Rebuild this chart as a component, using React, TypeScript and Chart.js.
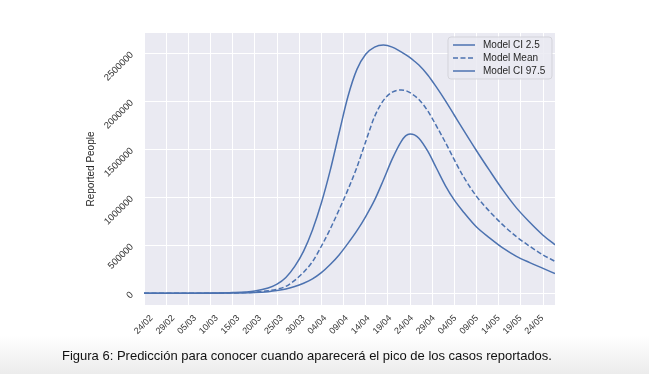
import React, { useEffect, useRef } from "react";
import { Chart, registerables } from "chart.js";

Chart.register(...registerables);

// Days since 24/02
const DAYS = [0, 10, 15, 20, 25, 28, 30, 32, 34, 36, 38, 40, 42, 44, 46, 48, 50, 52, 54, 56, 58, 59, 60, 61, 62, 64, 66, 68, 70, 72, 75, 78, 81, 84, 87, 90, 92.7];

const CI_LOW = [0, 100, 500, 2000, 8000, 17000, 28000, 45000, 70000, 105000, 150000, 215000, 300000, 400000, 520000, 650000, 800000, 970000, 1180000, 1400000, 1580000, 1640000, 1660000, 1650000, 1615000, 1480000, 1300000, 1120000, 970000, 850000, 690000, 575000, 470000, 385000, 320000, 260000, 205000];

const MEAN = [0, 200, 800, 3000, 12000, 26000, 42000, 72000, 135000, 220000, 330000, 490000, 670000, 870000, 1080000, 1310000, 1580000, 1840000, 2010000, 2095000, 2118000, 2112000, 2090000, 2058000, 2020000, 1900000, 1740000, 1570000, 1390000, 1220000, 1010000, 850000, 710000, 590000, 490000, 400000, 333000];

const CI_HIGH = [0, 500, 2000, 7000, 25000, 55000, 95000, 165000, 280000, 440000, 660000, 940000, 1280000, 1670000, 2050000, 2330000, 2490000, 2565000, 2586000, 2565000, 2515000, 2487000, 2455000, 2418000, 2378000, 2275000, 2145000, 2005000, 1855000, 1705000, 1485000, 1275000, 1072000, 890000, 740000, 605000, 505000];

const SERIES_NAMES = ["Model CI 2.5", "Model Mean", "Model CI 97.5"];

const GRID_DAYS = [0, 5, 10, 15, 20, 25, 30, 35, 40, 45, 50, 55, 60, 65, 70, 75, 80, 85, 90];
const TICK_LABELS = ["24/02", "29/02", "05/03", "10/03", "15/03", "20/03", "25/03", "30/03", "04/04", "09/04", "14/04", "19/04", "24/04", "29/04", "04/05", "09/05", "14/05", "19/05", "24/05"];
const Y_TICKS = [0, 500000, 1000000, 1500000, 2000000, 2500000];

const CAPTION = "Figura 6: Predicción para conocer cuando aparecerá el pico de los casos reportados.";

const LINE = "#4c72b0";
const FONT = "'Liberation Sans', Arial, sans-serif";

export default function App() {
  const ref = useRef<HTMLCanvasElement | null>(null);

  useEffect(() => {
    const canvas = ref.current;
    if (!canvas) return;

    const bgPlugin = {
      id: "plotBg",
      beforeDraw(chart: any) {
        const { ctx, chartArea: a } = chart;
        ctx.save();
        ctx.fillStyle = "#eaeaf2";
        ctx.fillRect(a.left, a.top, a.right - a.left, a.bottom - a.top);
        ctx.restore();
      },
    };

    const legendPlugin = {
      id: "innerLegend",
      afterDatasetsDraw(chart: any) {
        const { ctx, chartArea: a } = chart;
        const w = 104;
        const h = 42;
        const x = a.right - 3 - w;
        const y = a.top + 4;
        ctx.save();
        ctx.beginPath();
        const r = 3;
        ctx.moveTo(x + r, y);
        ctx.lineTo(x + w - r, y);
        ctx.quadraticCurveTo(x + w, y, x + w, y + r);
        ctx.lineTo(x + w, y + h - r);
        ctx.quadraticCurveTo(x + w, y + h, x + w - r, y + h);
        ctx.lineTo(x + r, y + h);
        ctx.quadraticCurveTo(x, y + h, x, y + h - r);
        ctx.lineTo(x, y + r);
        ctx.quadraticCurveTo(x, y, x + r, y);
        ctx.closePath();
        ctx.fillStyle = "rgba(234,234,242,0.85)";
        ctx.fill();
        ctx.strokeStyle = "rgba(210,210,215,0.9)";
        ctx.lineWidth = 1;
        ctx.stroke();
        chart.data.datasets.forEach((ds: any, i: number) => {
          const ry = y + 8 + i * 13;
          ctx.beginPath();
          ctx.setLineDash(ds.borderDash || []);
          ctx.strokeStyle = ds.borderColor;
          ctx.lineWidth = ds.borderWidth;
          ctx.moveTo(x + 5, ry);
          ctx.lineTo(x + 27, ry);
          ctx.stroke();
          ctx.setLineDash([]);
          ctx.fillStyle = "#262626";
          ctx.font = `10px ${FONT}`;
          ctx.textBaseline = "middle";
          ctx.textAlign = "left";
          ctx.fillText(ds.label, x + 35, ry + 0.5);
        });
        ctx.restore();
      },
    };

    const mk = (vals: number[]) => DAYS.map((d, i) => ({ x: d, y: vals[i] }));

    const chart = new Chart(canvas, {
      type: "line",
      data: {
        datasets: [
          { label: SERIES_NAMES[0], data: mk(CI_HIGH), borderColor: LINE, borderWidth: 1.5, pointRadius: 0, cubicInterpolationMode: "monotone", fill: false, xAxisID: "x", yAxisID: "y" },
          { label: SERIES_NAMES[1], data: mk(MEAN), borderColor: LINE, borderWidth: 1.5, borderDash: [5, 2.5], pointRadius: 0, cubicInterpolationMode: "monotone", fill: false, xAxisID: "x", yAxisID: "y" },
          { label: SERIES_NAMES[2], data: mk(CI_LOW), borderColor: LINE, borderWidth: 1.5, pointRadius: 0, cubicInterpolationMode: "monotone", fill: false, xAxisID: "x", yAxisID: "y" },
        ],
      },
      options: {
        responsive: false,
        animation: false,
        devicePixelRatio: 1,
        layout: { padding: { left: 0, top: 33, right: 94, bottom: 0 } },
        plugins: { legend: { display: false }, tooltip: { enabled: false } },
        scales: {
          x: {
            type: "linear",
            position: "bottom",
            min: 0,
            max: 92.7,
            afterBuildTicks: (s: any) => { s.ticks = GRID_DAYS.map((v) => ({ value: v })); },
            afterFit: (s: any) => { s.height = 0; },
            grid: { color: "#ffffff", lineWidth: 1, drawTicks: false },
            border: { display: false },
            ticks: { display: false },
          },
          x2: {
            type: "linear",
            position: "bottom",
            min: -0.35,
            max: 18.59,
            afterBuildTicks: (s: any) => { s.ticks = TICK_LABELS.map((_, i) => ({ value: i })); },
            afterFit: (s: any) => { s.height = 69; },
            grid: { display: false, drawTicks: false },
            border: { display: false },
            ticks: {
              autoSkip: false,
              minRotation: 45,
              maxRotation: 45,
              padding: 8,
              color: "#333333",
              font: { family: FONT, size: 9 },
              callback: (v: any) => TICK_LABELS[Math.round(v)] ?? "",
            },
          },
          y: {
            type: "linear",
            min: -122000,
            max: 2712000,
            afterBuildTicks: (s: any) => { s.ticks = Y_TICKS.map((v) => ({ value: v })); },
            afterFit: (s: any) => { s.width = 144; },
            grid: { color: "#ffffff", lineWidth: 1, drawTicks: false },
            border: { display: false },
            ticks: {
              minRotation: 45,
              maxRotation: 45,
              padding: 12,
              color: "#333333",
              font: { family: FONT, size: 9.5 },
              callback: (v: any) => String(v),
            },
            title: {
              display: true,
              text: "Reported People",
              color: "#262626",
              font: { family: FONT, size: 10 },
              padding: { top: 85, bottom: 0 },
            },
          },
        },
      } as any,
      plugins: [bgPlugin, legendPlugin],
    });

    return () => chart.destroy();
  }, []);

  return (
    <div style={{ position: "fixed", left: 0, top: 0, width: 649, height: 374, background: "#ffffff", overflow: "hidden" }}>
      <div style={{ position: "absolute", left: 0, top: 336, width: 649, height: 38, background: "linear-gradient(#ffffff, #ececec)" }} />
      <canvas ref={ref} width={649} height={374} style={{ position: "absolute", left: 0, top: 0, width: 649, height: 374 }} />
      <div style={{ position: "absolute", left: 62, top: 348, whiteSpace: "nowrap", fontFamily: FONT, fontSize: 13, color: "#111111" }}>{CAPTION}</div>
    </div>
  );
}
